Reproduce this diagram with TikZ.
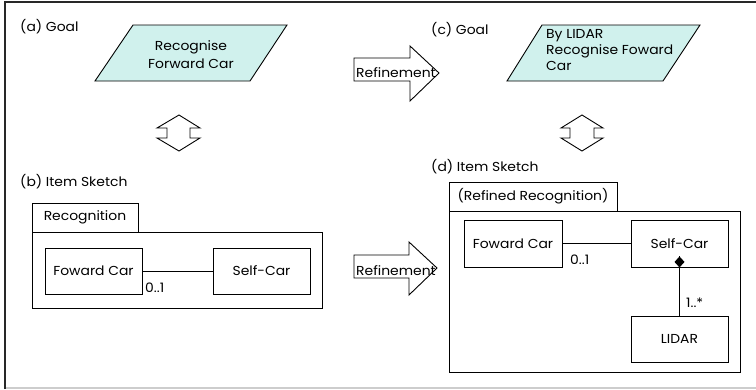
\documentclass[tikz,border=0pt]{standalone}
\usepackage{fontspec}
\setmainfont[FakeStretch=1.07]{Poppins}

\definecolor{goalfill}{RGB}{208,241,237}
\definecolor{framedark}{RGB}{40,40,40}
\definecolor{framelight}{RGB}{205,205,205}

\tikzset{
  txt/.style={font=\fontsize{13}{16}\selectfont, inner sep=0pt},
  caption/.style={txt, anchor=base west},
  thin/.style={line width=0.9pt, draw=black},
  classbox/.style={thin, txt, rectangle, minimum width=97pt, minimum height=46pt},
  pkgtab/.style={thin, txt, rectangle, minimum height=29pt},
  pkgbody/.style={thin, rectangle},
  goal/.style={thin, fill=goalfill},
  bigarrow/.style={thin, fill=white},
}

\begin{document}
\begin{tikzpicture}[x=1pt, y=-1pt]
\useasboundingbox (0,0) rectangle (756,389);

% window frame
\draw[framelight, line width=1.5pt] (5,388) -- (756,388);
\draw[framedark, line width=2pt] (5,389) -- (5,2) -- (756,2);

% ---------- (a) goal ----------
\node[caption] (capA) at (20,31) {(a) Goal};
\draw[goal] (95,81) -- (250,81) -- (287,25) -- (133,25) -- cycle;
\node[txt, align=center, font=\fontsize{13}{18}\selectfont] (goalA) at (191,55) {Recognise\\Forward Car};

% ---------- (c) goal ----------
\node[caption] (capC) at (431,34) {(c) Goal};
\draw[goal] (507,81) -- (663,81) -- (700,25) -- (542,25) -- cycle;
\node[txt, align=left, anchor=north west] (goalC) at (546,29)
  {By LIDAR\\Recognise Foward\\Car};

% ---------- goal <-> sketch arrows ----------
\draw[thin] (179,115) -- (200,128) -- (190,128) -- (190,138) -- (200,138)
  -- (179,151) -- (157,138) -- (167,138) -- (167,128) -- (157,128) -- cycle;
\draw[thin] (582,115) -- (603,128) -- (594,128) -- (594,138) -- (603,138)
  -- (582,151) -- (561,138) -- (570,138) -- (570,128) -- (561,128) -- cycle;

% ---------- refinement arrows ----------
\draw[bigarrow] (354,58) -- (410,58) -- (410,46) -- (439,73) -- (410,101)
  -- (410,81) -- (354,81) -- cycle;
\node[caption] (refTop) at (356,77) {Refinement};
\draw[bigarrow] (354,255) -- (409,255) -- (409,242) -- (437,268) -- (409,295)
  -- (409,278) -- (354,278) -- cycle;
\node[caption] (refBot) at (356,275) {Refinement};

% ---------- (b) item sketch ----------
\node[caption] (capB) at (20,186) {(b) Item Sketch};
\node[pkgtab, minimum width=106pt] (tabB) at (85,217.5) {Recognition};
\node[pkgbody, minimum width=290pt, minimum height=76pt] (pkgB) at (177,270) {};
\node[classbox] (fwdB) at (93.5,271) {Foward Car};
\node[classbox] (selfB) at (261.5,271) {Self-Car};
\draw[thin] (fwdB.east) -- (selfB.west);
\node[caption] (multB) at (145,292) {0..1};

% ---------- (d) item sketch ----------
\node[caption] (capD) at (431,171) {(d) Item Sketch};
\node[pkgtab, minimum width=168pt] (tabD) at (533,196.5) {(Refined Recognition)};
\node[pkgbody, minimum width=291pt, minimum height=161pt] (pkgD) at (594.5,291.5) {};
\node[classbox, minimum width=98pt, minimum height=47pt] (fwdD) at (513,243.5) {Foward Car};
\node[classbox, minimum height=47pt] (selfD) at (679.5,243.5) {Self-Car};
\node[classbox] (lidar) at (679.5,339) {LIDAR};
\draw[thin] (fwdD.east) -- (selfD.west);
\node[caption] (multD) at (570,264) {0..1};
% composition: diamond at the whole (Self-Car)
\coordinate (dtop) at (selfD.south);
\coordinate (dbot) at ([yshift=11pt]selfD.south);
\fill[black] (dtop) -- ([shift={(5pt,5.5pt)}]dtop) -- (dbot)
  -- ([shift={(-5pt,5.5pt)}]dtop) -- cycle;
\draw[thin] (dbot) -- (lidar.north);
\node[caption] (multL) at (686,307) {1..*};
\end{tikzpicture}
\end{document}
